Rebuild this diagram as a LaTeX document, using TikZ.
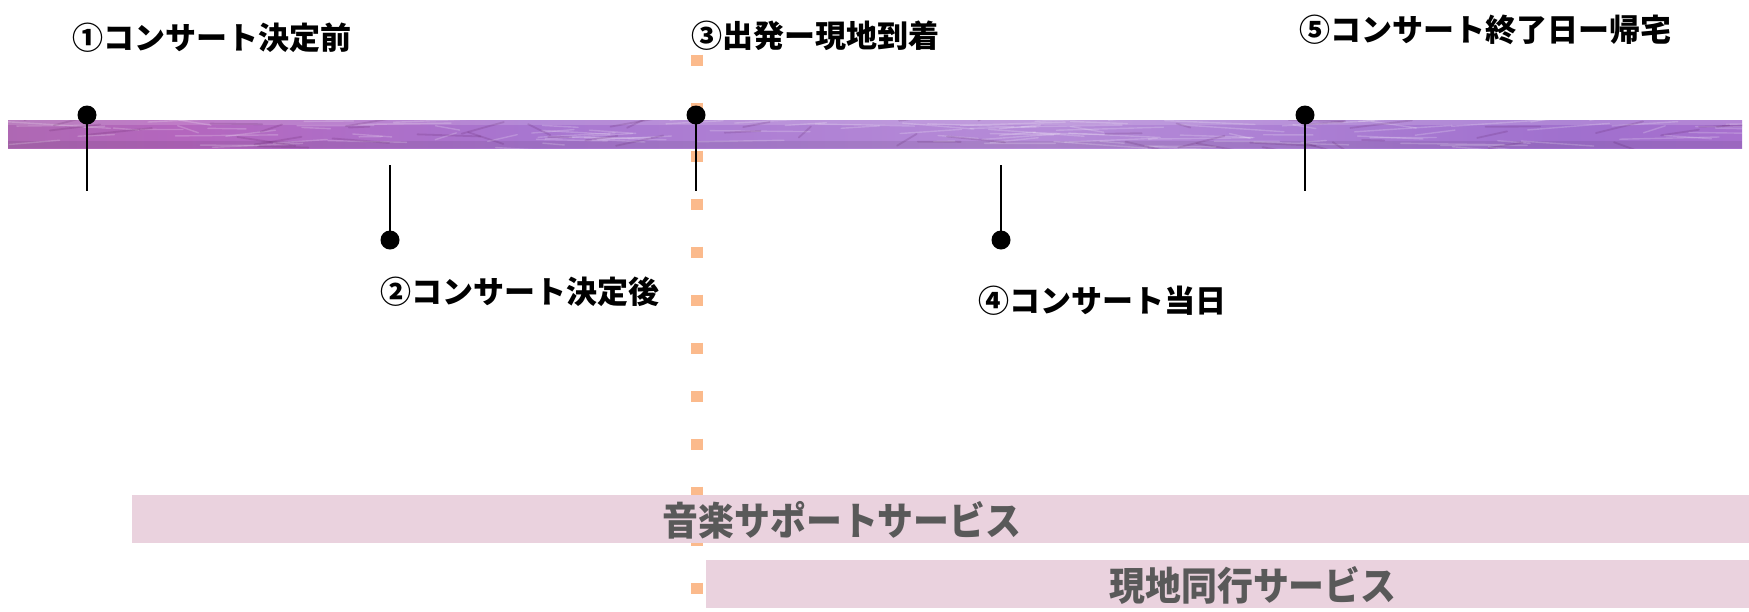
\documentclass[tikz,border=0pt]{standalone}
\usepackage{fontspec}
\newfontfamily\jp{Noto Sans CJK JP}
\newfontfamily\jpc{Noto Sans CJK JP}[FakeStretch=0.92]
\definecolor{orangedot}{RGB}{251,186,140}
\definecolor{pinkbox}{RGB}{234,210,222}
\definecolor{svcgray}{RGB}{89,89,89}
\definecolor{bA}{RGB}{178,122,168}
\definecolor{bB}{RGB}{165,108,162}
\definecolor{bC}{RGB}{180,102,190}
\definecolor{bD}{RGB}{168,118,208}
\definecolor{bE}{RGB}{182,140,216}
\definecolor{bF}{RGB}{160,112,206}
\definecolor{bG}{RGB}{182,112,206}
\definecolor{bH}{RGB}{165,96,190}
\definecolor{bI}{RGB}{118,72,128}
\pgfdeclarehorizontalshading{barshade}{100bp}{color(0bp)=(bA); color(17bp)=(bB); color(30bp)=(bC); color(40bp)=(bD); color(55bp)=(bE); color(70bp)=(bF); color(85bp)=(bG); color(96bp)=(bH); color(100bp)=(bI)}
\begin{document}
\begin{tikzpicture}[x=1pt,y=-1pt,
  dot/.style={circle,fill=black,inner sep=0,minimum size=19pt},
  lbl/.style={font=\jp\bfseries\fontsize{31}{31}\selectfont,inner sep=0},
  svc/.style={font=\jpc\bfseries\fontsize{39}{39}\selectfont,text=svcgray,inner sep=0},
  svcbox/.style={fill=pinkbox,inner sep=0,anchor=north west},
  stem/.style={line width=2pt},
  timebar/.style={shading=barshade,inner sep=0,anchor=north west,minimum width=1734pt,minimum height=28pt}]
\useasboundingbox (0,0) rectangle (1749,611);
\fill[white] (0,0) rectangle (1749,611);
% orange dotted divider
\coordinate (otop) at (697,54.5);
\coordinate (obot) at (697,600);
\draw[orangedot,line width=12pt,dash pattern=on 11pt off 37pt] (otop) -- (obot);
% time bar
\node[timebar] (bar) at (8,120) {};
\begin{scope}
\clip (bar.north west) rectangle (bar.south east);
\fill[white,opacity=0.15] (bar.north west) rectangle ([yshift=-5pt]bar.north east);
\fill[black,opacity=0.07] ([yshift=7pt]bar.south west) rectangle (bar.south east);
\pgfmathsetseed{11}
\foreach \i in {1,...,110}{
  \pgfmathsetmacro{\xa}{8+1734*rnd}
  \pgfmathsetmacro{\ya}{120+28*rnd}
  \pgfmathsetmacro{\dx}{20+90*rnd}
  \pgfmathsetmacro{\dy}{14*rnd-7}
  \draw[white,opacity=0.2,line width=1.4pt,line cap=round] (\xa,\ya) -- ++(\dx,\dy);
}
\foreach \i in {1,...,50}{
  \pgfmathsetmacro{\xa}{8+1734*rnd}
  \pgfmathsetmacro{\ya}{120+28*rnd}
  \pgfmathsetmacro{\dx}{10+60*rnd}
  \pgfmathsetmacro{\dy}{24*rnd-12}
  \draw[black!50!violet,opacity=0.14,line width=1.8pt,line cap=round] (\xa,\ya) -- ++(\dx,\dy);
}
\end{scope}
% stems
\coordinate (s1) at (87,191);
\coordinate (s2) at (390,165);
\coordinate (s3) at (696,191);
\coordinate (s4) at (1001,165);
\coordinate (s5) at (1305,191);
\node[dot] (d1) at (87,115) {};
\node[dot] (d2) at (390,240) {};
\node[dot] (d3) at (696,115) {};
\node[dot] (d4) at (1001,240) {};
\node[dot] (d5) at (1305,115) {};
\foreach \n in {1,...,5}{\draw[stem] (d\n.center) -- (s\n);}
% labels
\node[lbl] (l1) at (212,38) {①コンサート決定前};
\node[lbl] (l2) at (520,292) {②コンサート決定後};
\node[lbl] (l3) at (815,36) {③出発ー現地到着};
\node[lbl] (l4) at (1102,301) {④コンサート当日};
\node[lbl] (l5) at (1485,30) {⑤コンサート終了日ー帰宅};
% service boxes
\node[svcbox,minimum width=1617pt,minimum height=48pt] (sv1) at (132,495) {};
\node[svcbox,minimum width=1043pt,minimum height=48pt] (sv2) at (706,560) {};
\node[svc] (t1) at (842,520) {音楽サポートサービス};
\node[svc] (t2) at (1253,585) {現地同行サービス};
\end{tikzpicture}
\end{document}
